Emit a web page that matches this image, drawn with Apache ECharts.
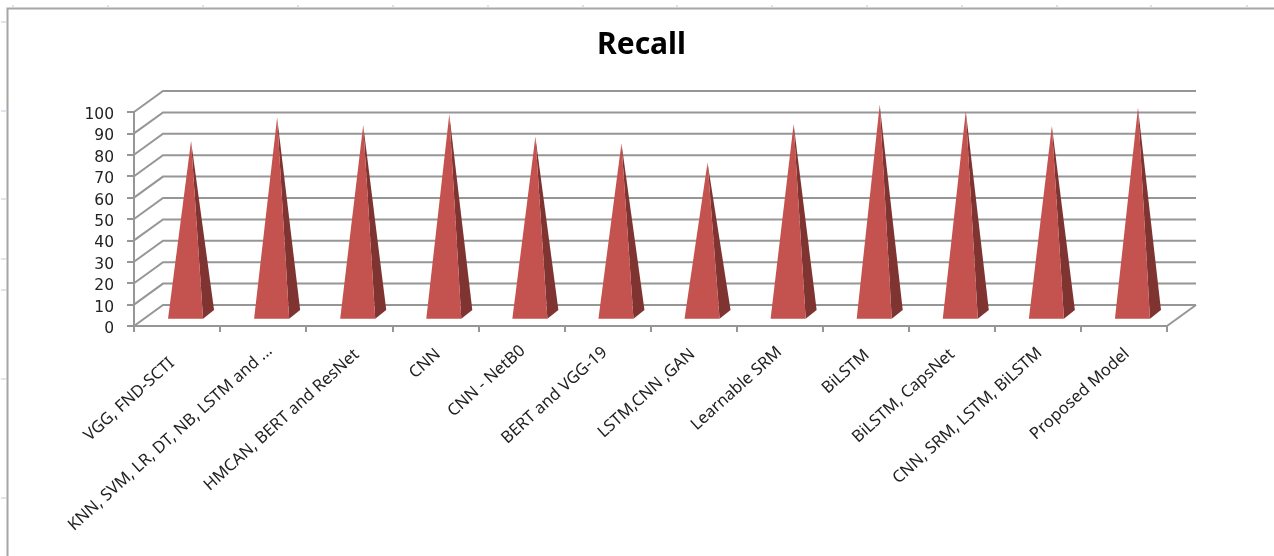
<!DOCTYPE html>
<html>
<head>
<meta charset="utf-8">
<style>html,body{margin:0;padding:0;background:#fff}#chart{width:1274px;height:556px}</style>
<script src="https://cdn.jsdelivr.net/npm/echarts@6/dist/echarts.min.js"></script>
</head>
<body>
<div id="chart"></div>
<script>
// Recall per model, drawn as pseudo-3D pyramids on a walled plot
const categories = ['VGG, FND-SCTI', 'KNN, SVM, LR, DT, NB, LSTM and ...', 'HMCAN, BERT and ResNet', 'CNN', 'CNN - NetB0', 'BERT and VGG-19', 'LSTM,CNN ,GAN', 'Learnable SRM', 'BiLSTM', 'BiLSTM, CapsNet', 'CNN, SRM, LSTM, BiLSTM', 'Proposed Model'];
const recall = [81, 92, 88.5, 93.5, 83, 80, 71, 89, 98, 95, 88, 96.5];
const valueTicks = [0, 10, 20, 30, 40, 50, 60, 70, 80, 90, 100];

// Sheet ruler marks around the chart frame
const rulerTop = [13, 108, 203, 298, 393, 488, 583, 677, 772, 867, 962, 1057, 1151, 1247];
const rulerLeft = [22, 111, 199, 259, 290, 379, 498];

// Per-label nudge of the slanted category text: [across the text, along the text]
const labelNudge = [[23, 17], [20, 0], [27, 2], [20, 5], [13, 4], [10, 8], [15, 8], [13, 6], [19, 7], [17, 7], [17, 5], [20, 5]];

// Depth of the plot box and placement of the pyramid base inside it
const wallDx = 29, wallDy = -21;
const baseDx = 8.5, baseDy = -7.3, sideDx = 11, sideDy = -8.7;
const gridColor = '#969696';

const chart = echarts.init(document.getElementById('chart'), null, { renderer: 'canvas' });

const frame = [
  { type: 'polyline', silent: true, z: 0, shape: { points: [[7.5, 556], [7.5, 8.5], [1274, 8.5]] }, style: { fill: null, stroke: '#a6a6a6', lineWidth: 2 } }
];
rulerTop.forEach(x => frame.push({ type: 'line', silent: true, z: 0, shape: { x1: x, y1: 5, x2: x, y2: 7 }, style: { stroke: '#e0e0ee', lineWidth: 2 } }));
rulerLeft.forEach(y => frame.push({ type: 'line', silent: true, z: 0, shape: { x1: 1, y1: y, x2: 6, y2: y }, style: { stroke: '#e0e2f0', lineWidth: 2 } }));

// One rich-text style per category label, carrying its nudge
const labelStyles = {};
labelNudge.forEach((n, i) => {
  labelStyles['c' + i] = { padding: [n[0], n[1], 0, 0], fontFamily: 'Noto Sans', fontSize: 16.5, color: '#222222' };
});

chart.setOption({
  animation: false,
  backgroundColor: '#ffffff',
  title: {
    text: 'Recall', left: 636.5, top: 20, textAlign: 'center',
    textStyle: { fontFamily: 'Noto Sans', fontWeight: 'bold', fontSize: 30, color: '#000000', lineHeight: 40 }
  },
  graphic: frame,
  grid: { left: 134, top: 112, width: 1033, height: 214 },
  xAxis: {
    type: 'category', boundaryGap: true, data: categories,
    axisLine: { lineStyle: { color: gridColor, width: 2 } },
    axisTick: { show: true, alignWithLabel: false, length: 6, lineStyle: { color: gridColor, width: 2 } },
    splitLine: { show: false },
    axisLabel: {
      interval: 0, rotate: 42, margin: 15,
      formatter: (name, i) => '{c' + i + '|' + name + '}',
      rich: labelStyles
    }
  },
  yAxis: {
    type: 'value', min: 0, max: 100, interval: 10,
    axisLine: { show: true, lineStyle: { color: gridColor, width: 2 } },
    axisTick: { show: true, length: 7, lineStyle: { color: gridColor, width: 2 } },
    splitLine: { show: false },
    axisLabel: {
      margin: 20, formatter: '{v|{value}}',
      rich: { v: { padding: [6, 0, 0, 0], fontFamily: 'DejaVu Sans', fontSize: 15.5, color: '#222222' } }
    }
  },
  series: [
    {
      // Floor edge, side-wall slants and back-wall gridlines
      type: 'custom', coordinateSystem: 'cartesian2d', silent: true, z: 1,
      data: valueTicks.map(v => [0, v]),
      encode: { x: 0, y: 1 },
      renderItem(params, api) {
        const cs = params.coordSys;
        const y = api.coord([0, api.value(1)])[1];
        const right = cs.x + cs.width;
        const children = [{
          type: 'polyline',
          shape: { points: [[cs.x, y], [cs.x + wallDx, y + wallDy], [right + wallDx, y + wallDy]] },
          style: { fill: null, stroke: gridColor, lineWidth: 2 }
        }];
        if (api.value(1) === 0) {
          children.push({
            type: 'line',
            shape: { x1: right, y1: y, x2: right + wallDx, y2: y + wallDy },
            style: { stroke: gridColor, lineWidth: 2 }
          });
        }
        return { type: 'group', children };
      }
    },
    {
      // Pyramids: a front face and a shaded right face meeting at the apex
      type: 'custom', coordinateSystem: 'cartesian2d', silent: true, z: 3,
      data: recall.map((v, i) => [i, v]),
      encode: { x: 0, y: 1 },
      renderItem(params, api) {
        const i = api.value(0);
        const top = api.coord([i, api.value(1)]);
        const base = api.coord([i, 0]);
        const half = api.size([1, 0])[0] * 0.2035;
        const fl = [base[0] + baseDx - half, base[1] + baseDy];
        const fr = [base[0] + baseDx + half, base[1] + baseDy];
        const br = [fr[0] + sideDx, fr[1] + sideDy];
        const apex = [base[0] + baseDx + sideDx / 2, top[1] + baseDy + sideDy / 2];
        return {
          type: 'group',
          children: [
            { type: 'polygon', shape: { points: [fr, br, apex] }, style: { fill: '#7F3432' } },
            { type: 'polygon', shape: { points: [fl, fr, apex] }, style: { fill: '#C4524F' } }
          ]
        };
      }
    }
  ]
});
</script>
</body>
</html>
